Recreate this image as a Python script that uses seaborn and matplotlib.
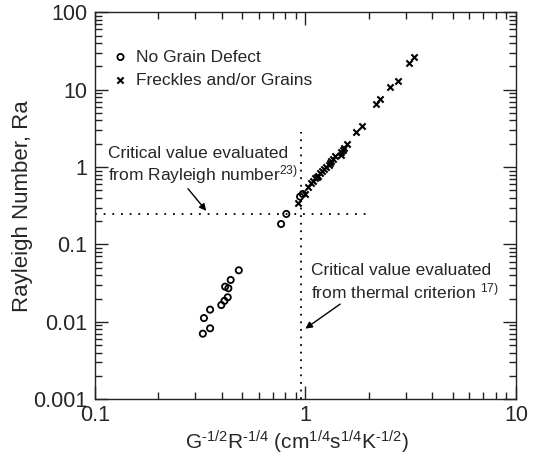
import matplotlib
matplotlib.use("Agg")
import matplotlib.pyplot as plt
import seaborn as sns
import numpy as np
import pandas as pd
from matplotlib.ticker import LogLocator, FixedLocator, FixedFormatter, NullFormatter

# ---- data ----
nodefect_x = [0.326, 0.330, 0.353, 0.353, 0.399, 0.413, 0.428, 0.416, 0.431, 0.442, 0.483,
              0.767, 0.812, 0.944, 0.972]
nodefect_y = [0.00704, 0.0112, 0.00826, 0.0144, 0.0165, 0.0187, 0.0208, 0.0285, 0.0272, 0.0348, 0.0464,
              0.184, 0.248, 0.415, 0.449]

freckle_x = [0.92, 1.00, 1.03, 1.06, 1.09, 1.11, 1.13, 1.15, 1.17, 1.20, 1.22, 1.25, 1.29, 1.31,
             1.33, 1.36, 1.38, 1.47, 1.48, 1.51, 1.53, 1.58, 1.74, 1.85, 2.16, 2.25, 2.51, 2.75,
             3.11, 3.27]
freckle_y = [0.34, 0.45, 0.56, 0.62, 0.67, 0.72, 0.74, 0.77, 0.85, 0.88, 0.95, 1.01, 1.08, 1.14,
             1.20, 1.26, 1.39, 1.45, 1.58, 1.66, 1.75, 1.99, 2.82, 3.43, 6.48, 7.51, 10.7, 12.9,
             22.1, 26.2]

series_labels = ["No Grain Defect", "Freckles and/or Grains"]
crit_ra = 0.25          # critical Rayleigh number
crit_thermal = 0.95     # critical thermal criterion value
x_ticks = [0.1, 1, 10]
x_tick_labels = ["0.1", "1", "10"]
y_ticks = [0.001, 0.01, 0.1, 1, 10, 100]
y_tick_labels = ["0.001", "0.01", "0.1", "1", "10", "100"]

df1 = pd.DataFrame({"x": nodefect_x, "y": nodefect_y})
df2 = pd.DataFrame({"x": freckle_x, "y": freckle_y})

sns.set_style("ticks")
plt.rcParams["font.family"] = ["Liberation Sans", "DejaVu Sans"]
plt.rcParams["mathtext.fontset"] = "custom"
plt.rcParams["mathtext.rm"] = "Liberation Sans"
plt.rcParams["mathtext.it"] = "Liberation Sans:italic"

fig = plt.figure(figsize=(5.36, 4.57), dpi=100)
ax = fig.add_axes([0.1767, 0.1263, 0.9627 - 0.1767, 0.9731 - 0.1263])

sns.scatterplot(data=df1, x="x", y="y", ax=ax, marker="o", s=20, facecolor="none",
                edgecolor="black", linewidth=1.3, label=series_labels[0], zorder=3)
sns.scatterplot(data=df2, x="x", y="y", ax=ax, marker="x", s=20, color="black",
                linewidth=1.5, label=series_labels[1], zorder=3)

ax.set_xscale("log")
ax.set_yscale("log")
ax.set_xlim(0.1, 10)
ax.set_ylim(0.001, 100)

# critical lines
ax.plot([0.1, 2.0], [crit_ra, crit_ra], color="black", lw=1.3, ls=(0, (1, 3.8)), zorder=2)
ax.plot([crit_thermal, crit_thermal], [0.001, 2.8], color="black", lw=1.3, ls=(0, (1, 3.2)), zorder=2)

fs = 12.5
ax.text(0.1155, 1.5, "Critical value evaluated", fontsize=fs, va="center", ha="left")
ax.text(0.1155, 0.80, r"from Rayleigh number$\mathregular{^{23)}}$", fontsize=fs, va="center", ha="left")
ax.annotate("", xy=(0.345, 0.255), xytext=(0.272, 0.56),
            arrowprops=dict(arrowstyle="-|>", color="black", lw=1.0, mutation_scale=10))

ax.text(1.06, 0.046, "Critical value evaluated", fontsize=fs, va="center", ha="left")
ax.text(1.06, 0.025, r"from thermal criterion $\mathregular{^{17)}}$", fontsize=fs, va="center", ha="left")
ax.annotate("", xy=(0.975, 0.0078), xytext=(1.5, 0.0178),
            arrowprops=dict(arrowstyle="-|>", color="black", lw=1.0, mutation_scale=10))

# ticks
ax.xaxis.set_major_locator(FixedLocator(x_ticks))
ax.xaxis.set_major_formatter(FixedFormatter(x_tick_labels))
ax.yaxis.set_major_locator(FixedLocator(y_ticks))
ax.yaxis.set_major_formatter(FixedFormatter(y_tick_labels))
ax.xaxis.set_minor_locator(LogLocator(base=10, subs=np.arange(2, 10), numticks=20))
ax.yaxis.set_minor_locator(LogLocator(base=10, subs=np.arange(2, 10), numticks=20))
ax.xaxis.set_minor_formatter(NullFormatter())
ax.yaxis.set_minor_formatter(NullFormatter())
ax.tick_params(which="both", direction="in", top=True, right=True, color="#222222", width=1.0)
ax.tick_params(which="major", length=9.5)
ax.tick_params(which="minor", length=5)
ax.tick_params(axis="y", which="major", labelsize=15.5, pad=5.5)
ax.tick_params(axis="x", which="major", labelsize=15.5, pad=4)
for sp in ax.spines.values():
    sp.set_color("#222222")
    sp.set_linewidth(1.0)

hy = "\u2010"
ax.set_xlabel(r"$\mathregular{G^{" + hy + r"1/2}R^{" + hy + r"1/4}\ (cm^{1/4}s^{1/4}K^{" + hy + r"1/2})}$",
              fontsize=15)
ax.xaxis.set_label_coords(0.479, -0.077)
ax.set_ylabel("Rayleigh Number, Ra", fontsize=16)
ax.yaxis.set_label_coords(-0.1476, 0.5)

leg = ax.legend(loc="upper left", bbox_to_anchor=(0.02, 0.922), frameon=False, fontsize=fs,
                handletextpad=0.3, handlelength=1.2, labelspacing=0.45, borderaxespad=0)

fig.savefig("out.png", dpi=100)
